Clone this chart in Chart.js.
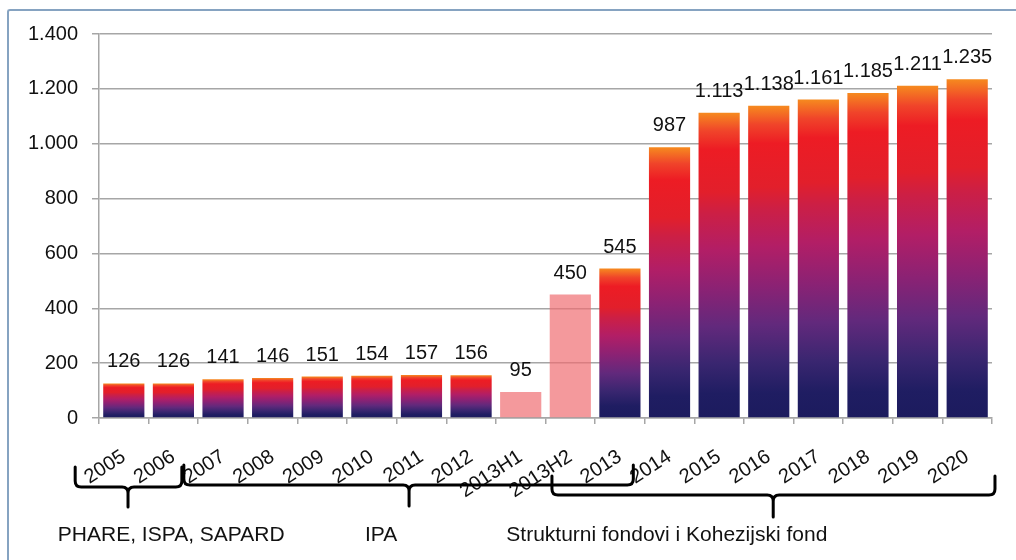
<!DOCTYPE html>
<html>
<head>
<meta charset="utf-8">
<script src="https://cdn.jsdelivr.net/npm/chart.js@4/dist/chart.umd.min.js"></script>
<style>
  html, body { margin: 0; padding: 0; background: #fff; }
  #wrap { position: relative; width: 1016px; height: 560px; overflow: hidden; }
  #frame { position: absolute; left: 7px; top: 9px; width: 1100px; height: 700px;
           border-left: 2px solid #86a3c1; border-top: 2px solid #86a3c1; border-top-left-radius: 3px; box-sizing: border-box; }
  canvas { position: absolute; left: 0; top: 0; }
</style>
</head>
<body>
<div id="wrap">
  <div id="frame"></div>
  <canvas id="c" width="1016" height="560"></canvas>
</div>
<script>
// ---- data ----
const categories = ['2005','2006','2007','2008','2009','2010','2011','2012','2013H1','2013H2','2013','2014','2015','2016','2017','2018','2019','2020'];
const values = [126,126,141,146,151,154,157,156,95,450,545,987,1113,1138,1161,1185,1211,1235];
const halfYearCategories = ['2013H1','2013H2'];
const yTicks = [0,200,400,600,800,1000,1200,1400];
// programme groups: label, first and last category (fractional index) covered by the brace, tip position
const groupLabels = ['PHARE, ISPA, SAPARD', 'IPA', 'Strukturni fondovi i Kohezijski fond'];
const groupFrom = [-0.98, 1.21, 8.63];
const groupTo = [1.17, 10.27, 17.56];
const groupTip = [0.085, 5.75, 13.09];
const groupTextAt = [-1.33, 4.86, 7.71];

const FONT = "'Liberation Sans', Arial, sans-serif";

function fmt(v) {
  return String(v).replace(/\B(?=(\d{3})+(?!\d))/g, '.');
}

function barColor(ctx) {
  const chart = ctx.chart;
  if (ctx.type !== 'data' || !chart.chartArea) return '#b21f66';
  const cat = categories[ctx.dataIndex];
  if (halfYearCategories.includes(cat)) return 'rgba(239,109,114,0.7)';
  const y = chart.scales.y;
  const top = y.getPixelForValue(ctx.raw);
  const bot = y.getPixelForValue(0);
  const g = chart.ctx.createLinearGradient(0, top, 0, bot);
  g.addColorStop(0.00, '#f68a1f');
  g.addColorStop(0.06, '#f0442a');
  g.addColorStop(0.12, '#ed1c24');
  g.addColorStop(0.26, '#e21f2b');
  g.addColorStop(0.33, '#cc1f45');
  g.addColorStop(0.45, '#b21e66');
  g.addColorStop(0.58, '#8a2274');
  g.addColorStop(0.70, '#62297c');
  g.addColorStop(0.82, '#3a2670');
  g.addColorStop(0.92, '#1f1d62');
  g.addColorStop(1.00, '#1c1b5e');
  return g;
}

const valueLabels = {
  id: 'valueLabels',
  afterDatasetsDraw(chart) {
    const ctx = chart.ctx;
    const meta = chart.getDatasetMeta(0);
    ctx.save();
    ctx.font = '20px ' + FONT;
    ctx.fillStyle = '#111';
    ctx.textAlign = 'center';
    ctx.textBaseline = 'alphabetic';
    meta.data.forEach((bar, i) => {
      ctx.fillText(fmt(values[i]), bar.x, bar.y - 16);
    });
    ctx.restore();
  }
};

const braces = {
  id: 'braces',
  afterDraw(chart) {
    const ctx = chart.ctx;
    const xs = chart.scales.x;
    const levels = [[467, 487, 507], [465, 485, 506], [476, 495, 517]];
    ctx.save();
    ctx.strokeStyle = '#000';
    ctx.lineWidth = 3;
    ctx.lineCap = 'round';
    ctx.lineJoin = 'round';
    const r = 6;
    groupLabels.forEach((lab, k) => {
      const L = xs.getPixelForValue(groupFrom[k]);
      const R = xs.getPixelForValue(groupTo[k]);
      const T = xs.getPixelForValue(groupTip[k]);
      const [top, mid, tip] = levels[k];
      ctx.beginPath();
      ctx.moveTo(L, top);
      ctx.lineTo(L, mid - r);
      ctx.quadraticCurveTo(L, mid, L + r, mid);
      ctx.lineTo(T - r, mid);
      ctx.quadraticCurveTo(T, mid, T, mid + r);
      ctx.lineTo(T, tip);
      ctx.moveTo(T, mid + r);
      ctx.quadraticCurveTo(T, mid, T + r, mid);
      ctx.lineTo(R - r, mid);
      ctx.quadraticCurveTo(R, mid, R, mid - r);
      ctx.lineTo(R, top);
      ctx.stroke();
    });
    ctx.font = '21px ' + FONT;
    ctx.fillStyle = '#111';
    ctx.textAlign = 'left';
    ctx.textBaseline = 'middle';
    groupLabels.forEach((lab, k) => {
      ctx.fillText(lab, xs.getPixelForValue(groupTextAt[k]), 535);
    });
    ctx.restore();
  }
};

new Chart(document.getElementById('c'), {
  type: 'bar',
  data: {
    labels: categories,
    datasets: [{
      data: values,
      backgroundColor: barColor,
      borderWidth: 0,
      categoryPercentage: 0.83,
      barPercentage: 1.0
    }]
  },
  options: {
    responsive: false,
    animation: false,
    devicePixelRatio: 1,
    layout: { padding: { top: 34, right: 24, left: 0, bottom: 0 } },
    plugins: { legend: { display: false }, tooltip: { enabled: false } },
    scales: {
      x: {
        afterFit(s) { s.height = 142; },
        grid: { display: true, drawOnChartArea: false, drawTicks: true, tickLength: 6, color: '#a6a6a6', lineWidth: 1.5 },
        border: { display: true, color: '#a6a6a6', width: 1.5 },
        ticks: { color: '#111', font: { family: FONT, size: 20 }, maxRotation: 33, minRotation: 33, padding: 21, autoSkip: false }
      },
      y: {
        min: 0, max: 1400,
        afterFit(s) { s.width = 99; },
        afterBuildTicks(s) { s.ticks = yTicks.map(v => ({ value: v })); },
        grid: { color: '#a6a6a6', lineWidth: 1.5, tickLength: 7 },
        border: { display: true, color: '#a6a6a6', width: 1.5 },
        ticks: { color: '#111', font: { family: FONT, size: 20 }, padding: 14, callback: v => fmt(v) }
      }
    }
  },
  plugins: [valueLabels, braces]
});
</script>
</body>
</html>
